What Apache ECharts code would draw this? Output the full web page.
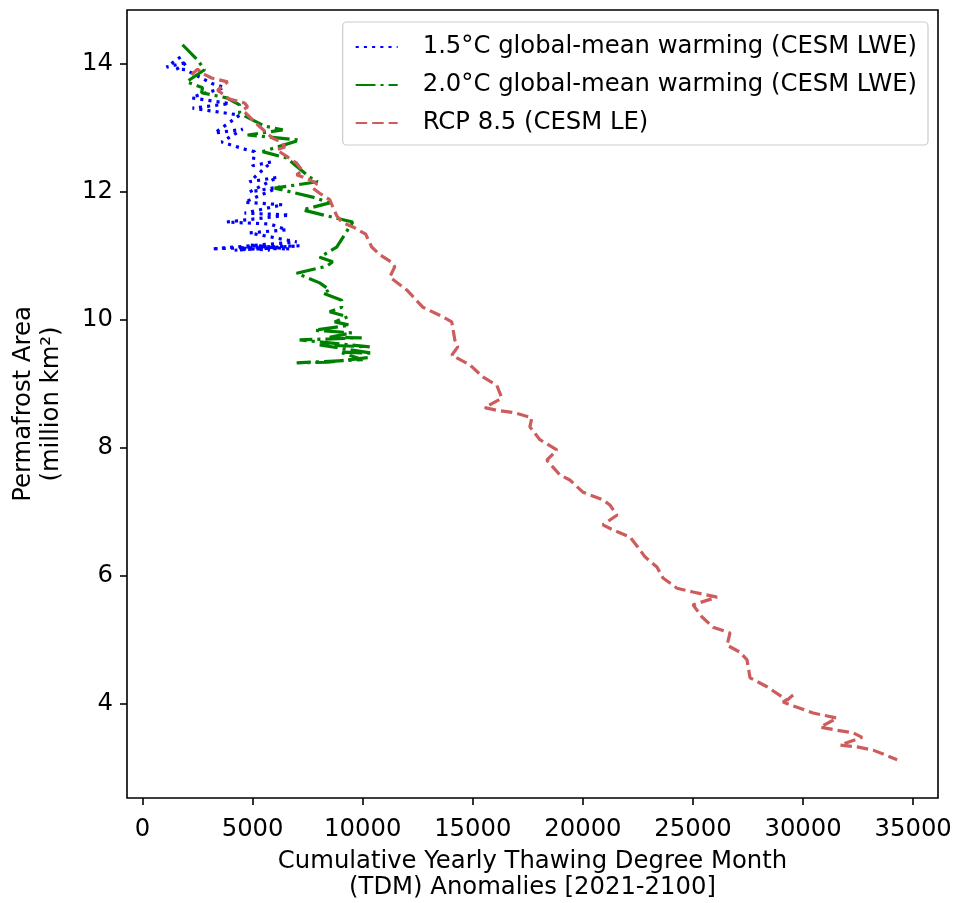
<!DOCTYPE html>
<html>
<head>
<meta charset="utf-8">
<script src="https://cdn.jsdelivr.net/npm/echarts@6/dist/echarts.min.js"></script>
<style>
  html, body { margin: 0; padding: 0; background: #fff; }
  #chart { width: 956px; height: 903px; }
</style>
</head>
<body>
<div id="chart"></div>
<script>
// ---- Data ----
const w15X = [1727, 1091, 2045, 1545, 1954, 3181, 3727, 2590, 2227, 3954, 2272, 4409, 3272, 4545, 3590, 4727, 5090, 5000, 5863, 4863, 6136, 4863, 6227, 4636, 6363, 4636, 6681, 3818, 5772, 6545, 4863, 7000, 3136, 5318, 7136, 4181, 6227, 4863, 6681, 4409, 5772, 5409];
const w15Y = [14.11, 13.95, 14.03, 13.92, 13.91, 13.69, 13.63, 13.52, 13.47, 13.38, 13.31, 13.20, 12.92, 12.98, 12.78, 12.66, 12.63, 12.41, 12.47, 12.16, 12.23, 12.00, 12.08, 11.84, 11.80, 11.67, 11.64, 11.53, 11.50, 11.41, 11.36, 11.22, 11.11, 11.14, 11.16, 11.09, 11.13, 11.17, 11.11, 11.13, 11.09, 11.16];

const w20X = [1818, 2500, 2818, 2000, 2727, 2682, 3818, 4409, 4409, 5545, 6363, 4772, 7136, 5454, 6545, 7590, 7954, 6000, 7727, 8500, 7272, 8818, 9545, 8818, 8045, 8636, 8363, 7000, 8045, 8500, 8181, 9045, 9045, 8500, 9318, 8727, 9409, 7818, 9500, 8500, 9954, 7136, 10318, 8045, 10454, 8954, 10000, 7000, 8409, 10409];
const w20Y = [14.30, 14.06, 13.91, 13.72, 13.63, 13.55, 13.47, 13.36, 13.23, 13.03, 12.97, 12.89, 12.81, 12.63, 12.53, 12.23, 12.16, 12.06, 11.92, 11.83, 11.72, 11.59, 11.53, 11.14, 10.98, 10.91, 10.84, 10.73, 10.58, 10.47, 10.42, 10.31, 10.20, 10.13, 10.05, 9.97, 9.92, 9.84, 9.80, 9.73, 9.72, 9.69, 9.58, 9.61, 9.48, 9.50, 9.38, 9.33, 9.34, 9.42];

const rcpX = [2227, 2500, 2682, 3136, 3863, 3409, 3954, 4636, 4772, 4545, 5227, 5909, 6363, 6454, 6090, 7000, 7272, 7000, 7590, 7908, 7727, 8045, 8500, 8636, 8818, 9045, 9636, 10136, 10408, 10772, 11363, 11454, 11227, 12000, 12727, 13636, 14045, 14181, 14318, 14045, 14863, 15454, 16090, 16318, 15545, 16090, 16908, 17681, 17590, 18045, 18818, 18363, 18954, 19408, 20000, 20908, 21227, 21545, 20908, 21363, 22136, 22500, 22818, 23363, 23636, 24272, 25000, 26090, 25000, 25409, 25909, 26681, 26545, 27136, 27454, 27590, 28363, 29272, 29545, 29090, 29727, 30454, 31545, 30772, 31545, 32272, 32681, 31681, 32454, 33181, 34272];
const rcpY = [13.83, 13.92, 13.86, 13.78, 13.72, 13.59, 13.45, 13.39, 13.33, 13.28, 13.05, 12.84, 12.77, 12.70, 12.66, 12.45, 12.33, 12.27, 12.19, 12.13, 12.06, 11.98, 11.88, 11.77, 11.63, 11.53, 11.44, 11.34, 11.14, 11.02, 10.89, 10.83, 10.67, 10.47, 10.20, 10.05, 9.97, 9.69, 9.58, 9.45, 9.30, 9.11, 8.98, 8.78, 8.63, 8.59, 8.55, 8.47, 8.33, 8.13, 7.97, 7.81, 7.58, 7.50, 7.31, 7.19, 7.11, 6.95, 6.80, 6.72, 6.61, 6.45, 6.30, 6.14, 5.97, 5.81, 5.75, 5.67, 5.55, 5.36, 5.20, 5.11, 4.92, 4.81, 4.69, 4.41, 4.27, 4.06, 4.14, 4.03, 3.95, 3.86, 3.78, 3.64, 3.59, 3.55, 3.48, 3.36, 3.33, 3.28, 3.13];

const xTicks = [0, 5000, 10000, 15000, 20000, 25000, 30000, 35000];
const yTicks = [4, 6, 8, 10, 12, 14];

const seriesNames = [
  '1.5°C global-mean warming (CESM LWE)',
  '2.0°C global-mean warming (CESM LWE)',
  'RCP 8.5 (CESM LE)'
];

// ---- Build ----
function zip(xs, ys) { return xs.map((x, i) => [x, ys[i]]); }

const FONT = 'DejaVu Sans';
const FS = 24.3;
const LW = 3.2;

const chart = echarts.init(document.getElementById('chart'), null, { renderer: 'canvas' });

const option = {
  animation: false,
  backgroundColor: '#ffffff',
  textStyle: { fontFamily: FONT },
  grid: {
    left: 127, right: 18, top: 10, bottom: 105,
    outerBoundsMode: 'none',
    containLabel: false,
    show: true, borderColor: '#000', borderWidth: 1.6, backgroundColor: 'transparent'
  },
  legend: {
    orient: 'vertical',
    right: 28, top: 22,
    align: 'left',
    itemWidth: 42, itemHeight: 14,
    itemGap: 10,
    padding: [11, 11, 8, 12],
    backgroundColor: 'rgba(255,255,255,0.8)',
    borderColor: '#cccccc', borderWidth: 1.2, borderRadius: 4,
    itemStyle: { opacity: 0 },
    textStyle: { fontFamily: FONT, fontSize: FS, color: '#000', lineHeight: 28, padding: [0, 0, 0, 20] },
    data: seriesNames
  },
  xAxis: {
    type: 'value',
    min: -705, max: 36127,
    splitLine: { show: false },
    axisLine: { show: false, onZero: false },
    axisTick: { show: true, customValues: xTicks, length: 7, lineStyle: { color: '#000', width: 1.6 } },
    axisLabel: { customValues: xTicks, formatter: v => String(v), color: '#000', fontFamily: FONT, fontSize: FS, margin: 20 },
    name: 'Cumulative Yearly Thawing Degree Month\n(TDM) Anomalies [2021-2100]',
    nameLocation: 'middle',
    nameGap: 51,
    nameTextStyle: { fontFamily: FONT, fontSize: FS, color: '#000', lineHeight: 26 }
  },
  yAxis: {
    type: 'value',
    min: 2.532, max: 14.843,
    splitLine: { show: false },
    axisLine: { show: false, onZero: false },
    axisTick: { show: true, customValues: yTicks, length: 7, lineStyle: { color: '#000', width: 1.6 } },
    axisLabel: { customValues: yTicks, color: '#000', fontFamily: FONT, fontSize: FS, margin: 14, padding: [3, 0, 0, 0] },
    name: 'Permafrost Area\n(million km²)',
    nameLocation: 'middle',
    nameGap: 61,
    nameTextStyle: { fontFamily: FONT, fontSize: FS, color: '#000', lineHeight: 28 }
  },
  series: [
    {
      name: seriesNames[0], type: 'line', data: zip(w15X, w15Y),
      symbol: 'none', clip: true,
      lineStyle: { color: '#0000ff', width: LW, type: [3.1, 5.1], cap: 'butt' },
      itemStyle: { color: '#0000ff' }
    },
    {
      name: seriesNames[1], type: 'line', data: zip(w20X, w20Y),
      symbol: 'none', clip: true,
      lineStyle: { color: '#008000', width: LW, type: [19.8, 5, 3.1, 5], cap: 'butt' },
      itemStyle: { color: '#008000' }
    },
    {
      name: seriesNames[2], type: 'line', data: zip(rcpX, rcpY),
      symbol: 'none', clip: true,
      lineStyle: { color: '#cd5c5c', width: LW, type: [11.5, 5], cap: 'butt' },
      itemStyle: { color: '#cd5c5c' }
    }
  ]
};

chart.setOption(option);
</script>
</body>
</html>
